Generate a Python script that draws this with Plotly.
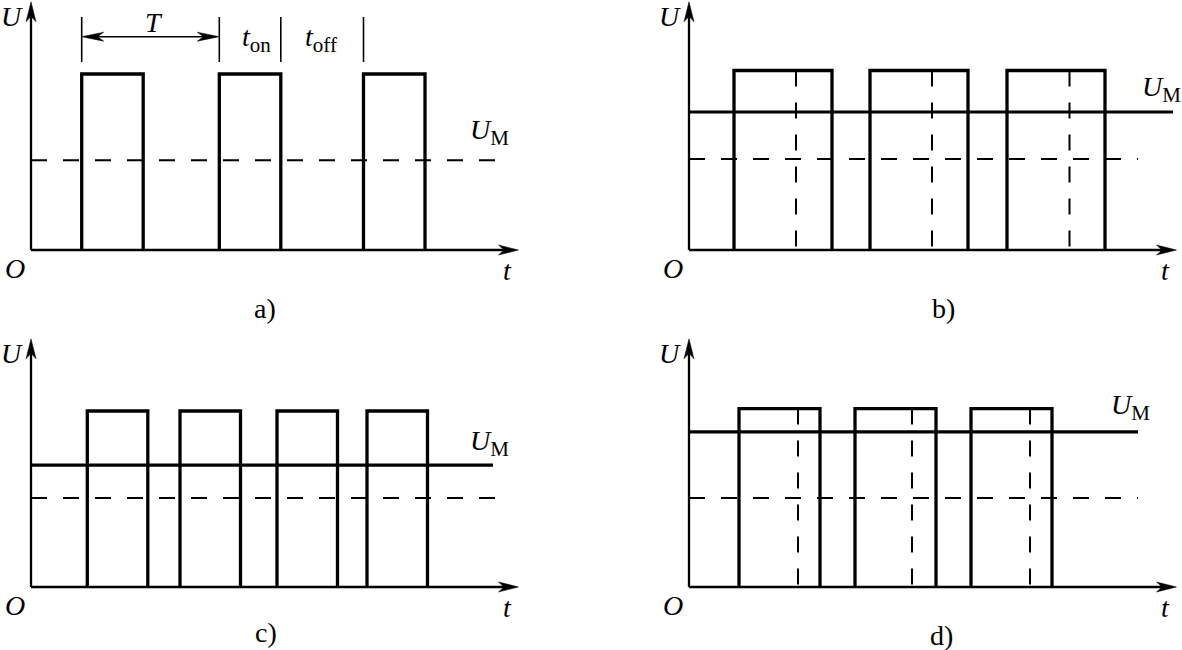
import plotly.graph_objects as go

# ---------------- data ----------------
# time unit: arbitrary (t), voltage unit: pulse amplitude (U)
a_pulse_start = [5.07, 18.83, 33.25]
a_pulse_width = 6.15
a_pulse_high = 1.0
a_dashed_level = 0.51

b_pulse_start = [4.5, 18.1, 31.8]
b_pulse_width = 9.8
b_pulse_high = 1.02
b_dashed_level = 0.517
b_um_level = 0.784
b_mid_marks = [10.7, 24.3, 38.05]

c_pulse_start = [5.63, 14.9, 24.6, 33.6]
c_pulse_width = 6.05
c_pulse_high = 1.0
c_dashed_level = 0.506
c_um_level = 0.693

d_pulse_start = [5.0, 16.6, 28.2]
d_pulse_width = 8.1
d_pulse_high = 1.014
d_dashed_level = 0.506
d_um_level = 0.881
d_mid_marks = [10.9, 22.3, 34.1]

dashed_end = [46.5, 44.9, 46.4, 44.9]
um_end = [None, 48.4, 46.2, 44.9]
captions = ["a)", "b)", "c)", "d)"]

# ---------------- layout constants ----------------
W, H = 1182, 650
X_PX, Y_PX = 10.0, 176.0          # pixels per data unit
X_RANGE = [-1.5, 49.2]
Y_RANGE = [-0.05, 1.42]
X_TIP, Y_TIP = 48.75, 1.41
ORIGINS = [(31, 250), (689, 250), (31, 587), (689, 587)]
CAPTION_OFF = [(234, 58), (254, 58), (235, 45), (253, 48)]
UM_LABEL = [(45.8, 0.672), (47.2, 0.915), (45.8, 0.818), (44.1, 1.02)]
FONT = "Liberation Serif, Times New Roman, serif"
FS = 28
SUB = '<sub><span style="font-size:21px">{}</span></sub>'
BLACK = "#000000"

panels = [
    dict(start=a_pulse_start, width=a_pulse_width, high=a_pulse_high, dashed=a_dashed_level, um=None, marks=None),
    dict(start=b_pulse_start, width=b_pulse_width, high=b_pulse_high, dashed=b_dashed_level, um=b_um_level, marks=b_mid_marks),
    dict(start=c_pulse_start, width=c_pulse_width, high=c_pulse_high, dashed=c_dashed_level, um=c_um_level, marks=None),
    dict(start=d_pulse_start, width=d_pulse_width, high=d_pulse_high, dashed=d_dashed_level, um=d_um_level, marks=d_mid_marks),
]

fig = go.Figure()
annotations = []
layout_axes = {}


def px_paper(px, py):
    return px / W, 1 - py / H


def label(x, y, text, xref="paper", yref="paper", yanchor="middle"):
    annotations.append(dict(x=x, y=y, xref=xref, yref=yref, showarrow=False, text=text,
                            xanchor="center", yanchor=yanchor, borderpad=0))


def head(tip_x, tip_y, direction, length_px=20, half_px=5.0, notch=0.28):
    if direction in ("right", "left"):
        L = length_px / X_PX * (1 if direction == "right" else -1)
        hw = half_px / Y_PX
        xs = [tip_x, tip_x - L, tip_x - L * (1 - notch), tip_x - L, tip_x]
        ys = [tip_y, tip_y + hw, tip_y, tip_y - hw, tip_y]
    else:
        L = length_px / Y_PX
        hw = half_px / X_PX
        xs = [tip_x, tip_x + hw, tip_x, tip_x - hw, tip_x]
        ys = [tip_y, tip_y - L, tip_y - L * (1 - notch), tip_y - L, tip_y]
    return xs, ys


for i, p in enumerate(panels):
    k = "" if i == 0 else str(i + 1)
    xr, yr = "x" + k, "y" + k
    ox, oy = ORIGINS[i]
    x0 = (ox + X_RANGE[0] * X_PX) / W
    x1 = (ox + X_RANGE[1] * X_PX) / W
    y0 = 1 - (oy - Y_RANGE[0] * Y_PX) / H
    y1 = 1 - (oy - Y_RANGE[1] * Y_PX) / H
    layout_axes["xaxis" + k] = dict(domain=[x0, x1], range=X_RANGE, visible=False, anchor=yr, fixedrange=True)
    layout_axes["yaxis" + k] = dict(domain=[y0, y1], range=Y_RANGE, visible=False, anchor=xr, fixedrange=True)

    def line(xs, ys, width, dash="solid"):
        fig.add_trace(go.Scatter(x=xs, y=ys, mode="lines", xaxis=xr, yaxis=yr,
                                 line=dict(color=BLACK, width=width, dash=dash),
                                 hoverinfo="skip", showlegend=False))

    def poly(xs, ys):
        fig.add_trace(go.Scatter(x=xs, y=ys, mode="lines", fill="toself", fillcolor=BLACK,
                                 xaxis=xr, yaxis=yr, line=dict(color=BLACK, width=0.5),
                                 hoverinfo="skip", showlegend=False))

    # reference dashed level
    line([0, dashed_end[i]], [p["dashed"], p["dashed"]], 2, "16px,16px")
    # mid marks (vertical dashed)
    if p["marks"]:
        for m in p["marks"]:
            line([m, m], [p["high"], 0], 2, "16px,16px")
    # axes
    line([0, X_TIP - 1.0], [0, 0], 2.3)
    line([0, 0], [0, Y_TIP - 0.05], 2.3)
    poly(*head(X_TIP, 0, "right"))
    poly(*head(0, Y_TIP, "up"))
    # pulses
    xs, ys = [], []
    for s in p["start"]:
        e = s + p["width"]
        xs += [s, s, e, e, None]
        ys += [0, p["high"], p["high"], 0, None]
    line(xs, ys, 3.3)
    # mean voltage line
    if p["um"] is not None:
        line([0, um_end[i]], [p["um"], p["um"]], 3.2)

    # labels
    ux, uy = UM_LABEL[i]
    label(ux, uy, "<i>U</i>" + SUB.format("M"), xref=xr, yref=yr)
    label(*px_paper(ox - 19, oy - 250), "<i>U</i>", yanchor="top")
    label(*px_paper(ox - 16, oy + 18), "<i>O</i>")
    label(*px_paper(ox + 476, oy + 20), "<i>t</i>")
    label(*px_paper(ox + CAPTION_OFF[i][0], oy + CAPTION_OFF[i][1]), captions[i])

    if i == 0:
        s1, s2, s3 = p["start"]
        ticks = [s1, s2, s2 + p["width"], s3]
        for tk in ticks:
            line([tk, tk], [1.068, 1.324], 1.6)
        dim_y = 1.212
        line([s1 + 1.0, s2 - 1.0], [dim_y, dim_y], 1.6)
        poly(*head(s1, dim_y, "left", length_px=22, half_px=4.5))
        poly(*head(s2, dim_y, "right", length_px=22, half_px=4.5))
        label(12.3, 1.29, "<i>T</i>", xref=xr, yref=yr)
        label(22.5, 1.20, "<i>t</i>" + SUB.format("on"), xref=xr, yref=yr)
        label(29.0, 1.20, "<i>t</i>" + SUB.format("off"), xref=xr, yref=yr)

fig.update_layout(
    width=W, height=H,
    margin=dict(l=0, r=0, t=0, b=0),
    paper_bgcolor="white", plot_bgcolor="rgba(0,0,0,0)",
    font=dict(family=FONT, size=FS, color=BLACK),
    annotations=annotations,
    showlegend=False,
    **layout_axes,
)

fig.write_html("out.html", config=dict(displayModeBar=False),
               post_script="document.body.style.margin='0px';document.body.style.overflow='hidden';")
